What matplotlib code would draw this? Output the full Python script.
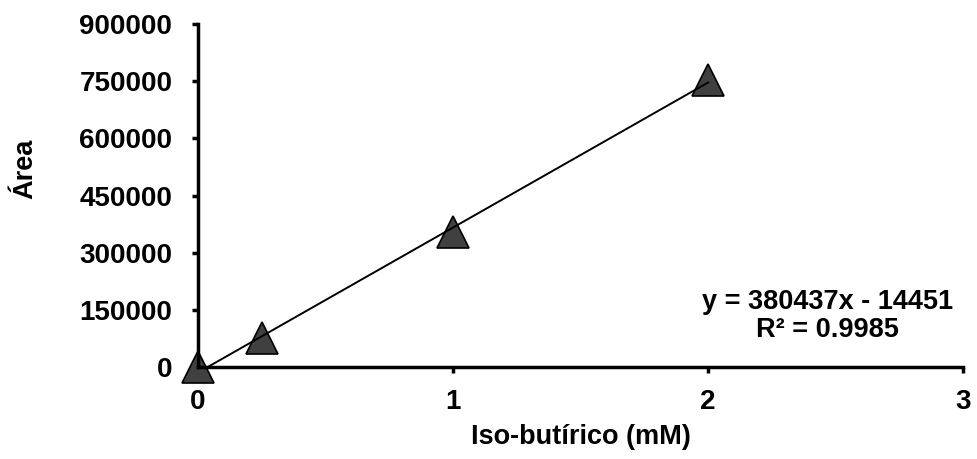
import numpy as np
import matplotlib.pyplot as plt

plt.rcParams['font.family'] = ['Liberation Sans', 'DejaVu Sans']
plt.rcParams['font.weight'] = 'bold'

# calibration points
conc = [0, 0.25, 1, 2]
area = [0, 76000, 354000, 753000]

# linear fit reported on the chart
slope = 380437
intercept = -14451
r2 = 0.9985

xticks = [0, 1, 2, 3]
yticks = [0, 150000, 300000, 450000, 600000, 750000, 900000]

fig = plt.figure(figsize=(9.77, 4.59), dpi=100)
ax = fig.add_axes([0.2027, 0.2004, 0.783, 0.7473])

# trendline drawn from the x-intercept up to the last standard
xfit = np.linspace(-intercept / slope, max(conc), 100)
ax.plot(xfit, slope * xfit + intercept, color='black', lw=1.4, zorder=3)
ax.plot(conc, area, linestyle='none', marker='^', markersize=23,
        markerfacecolor='#404040', markeredgecolor='black', markeredgewidth=1.2,
        clip_on=False, zorder=2)

ax.set_xlim(0, 3)
ax.set_ylim(0, 900000)
ax.set_xticks(xticks)
ax.set_yticks(yticks)
ax.set_xticklabels([str(t) for t in xticks])
ax.set_yticklabels([str(t) for t in yticks])

for s in ['top', 'right']:
    ax.spines[s].set_visible(False)
for s in ['left', 'bottom']:
    ax.spines[s].set_linewidth(2.5)
ax.tick_params(direction='out', length=4.5, width=2.5, labelsize=20)
ax.tick_params(axis='y', pad=14)
ax.tick_params(axis='x', pad=11)

ax.set_xlabel('Iso-butírico (mM)', fontsize=19.5, fontweight='bold')
ax.xaxis.set_label_coords(0.5, -0.167)
ax.set_ylabel('Área', fontsize=19.5, fontweight='bold')
ax.yaxis.label.set_verticalalignment('center')
ax.yaxis.set_label_coords(-0.226, 0.577)

ax.text(2.47, 135000, f'y = {slope}x - {abs(intercept)}\nR² = {r2}',
        fontsize=19.5, fontweight='bold', ha='center', va='center',
        multialignment='center', linespacing=1.1)

fig.savefig('out.png', dpi=100)
